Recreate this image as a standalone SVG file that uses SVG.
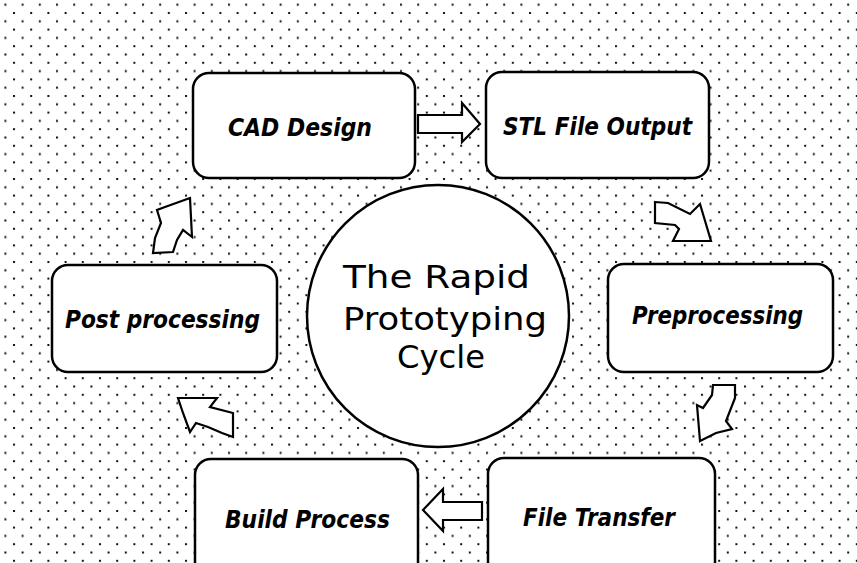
<svg xmlns="http://www.w3.org/2000/svg" width="857" height="563" viewBox="0 0 857 563">
<defs>
<pattern id="dots" x="13" y="12" width="17.2" height="16.6" patternUnits="userSpaceOnUse">
<rect x="0" y="0" width="2" height="2" fill="#111"/>
<rect x="8.6" y="8.3" width="2" height="2" fill="#111"/>
</pattern>
</defs>
<style>
.box{fill:#fff;stroke:#000;stroke-width:2.5}
.arr{fill:#fff;stroke:#000;stroke-width:2.2;stroke-linejoin:miter}
.lbl{font-family:"DejaVu Sans",sans-serif;font-weight:bold;font-style:italic;font-size:24px;fill:#000}
.ctr{font-family:"DejaVu Sans",sans-serif;font-size:32px;fill:#000}
</style>
<rect x="0" y="0" width="857" height="563" fill="#fff"/>
<rect x="0" y="0" width="857" height="563" fill="url(#dots)"/>

<g id="connectors">
<polygon class="arr" points="418,115 462,115 462,103 480,124 462,142 462,133 418,133"/>
<polygon class="arr" points="655,202 668,203 690,214 700,204 711,241 673,241 679,229 675,225 655,223"/>
<polygon class="arr" points="713,385 735,385 735,398 726,421 732,429 716,433 700,441 697,405 703,408 712,395"/>
<polygon class="arr" points="482,502 443,502 443,489 423,510 443,531 443,520 482,520"/>
<polygon class="arr" points="178,398 217,398 210,407 233,413 233,437 222,433 208,427 196,423 190,432 183,413"/>
<polygon class="arr" points="190,198 192,237 183,230 177,240 173,252 153,253 155,238 161,223 157,210 165,207"/>
</g>

<g id="cad-design">
<rect class="box" x="193" y="73" width="222" height="105" rx="16"/>
<text class="lbl" x="228" y="136" textLength="144" lengthAdjust="spacingAndGlyphs">CAD Design</text>
</g>
<g id="stl-file-output">
<rect class="box" x="486" y="72" width="223" height="106" rx="16"/>
<text class="lbl" x="503" y="135" textLength="189" lengthAdjust="spacingAndGlyphs">STL File Output</text>
</g>
<g id="preprocessing">
<rect class="box" x="608" y="264" width="225" height="108" rx="16"/>
<text class="lbl" x="632" y="324" textLength="171" lengthAdjust="spacingAndGlyphs">Preprocessing</text>
</g>
<g id="post-processing">
<rect class="box" x="52" y="265" width="225" height="107" rx="16"/>
<text class="lbl" x="65" y="328" textLength="195" lengthAdjust="spacingAndGlyphs">Post processing</text>
</g>
<g id="build-process">
<rect class="box" x="195" y="459" width="223" height="120" rx="16"/>
<text class="lbl" x="225" y="528" textLength="165" lengthAdjust="spacingAndGlyphs">Build Process</text>
</g>
<g id="file-transfer">
<rect class="box" x="488" y="458" width="227" height="120" rx="16"/>
<text class="lbl" x="523" y="526" textLength="152" lengthAdjust="spacingAndGlyphs">File Transfer</text>
</g>
<g id="center">
<circle class="box" cx="438" cy="316" r="131"/>
<text class="ctr" x="343" y="288" textLength="187" lengthAdjust="spacingAndGlyphs">The  Rapid</text>
<text class="ctr" x="343" y="330" textLength="204" lengthAdjust="spacingAndGlyphs">Prototyping</text>
<text class="ctr" x="397" y="368" textLength="88" lengthAdjust="spacingAndGlyphs">Cycle</text>
</g>
</svg>
